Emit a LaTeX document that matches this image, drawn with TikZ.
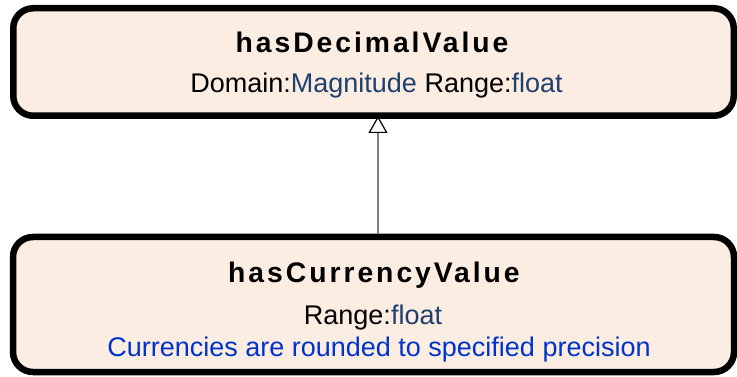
\documentclass[tikz,border=0pt]{standalone}
\usepackage{fontspec}
\setmainfont{Liberation Sans}
\usetikzlibrary{arrows.meta}
\definecolor{boxfill}{RGB}{252,237,226}
\definecolor{darkblue}{RGB}{31,63,111}
\definecolor{brightblue}{RGB}{0,51,204}
\tikzset{
  classbox/.style={draw=black, line width=6.5pt, fill=boxfill, rounded corners=20pt, rectangle, inner sep=0pt},
  titletext/.style={anchor=base, font=\fontsize{28.3}{30}\selectfont\bfseries\addfontfeature{LetterSpace=10.5}},
  bodytext/.style={anchor=base, font=\fontsize{27}{29}\selectfont},
  inherit/.style={draw={rgb,255:red,128;green,128;blue,128}, line width=1.3pt, -{Triangle[open, length=17pt, width=19pt, line width=1.2pt, color=black]}}
}
\begin{document}
\begin{tikzpicture}[x=1pt,y=-1pt]
\useasboundingbox (0,0) rectangle (737,377);
\node[classbox, minimum width=720.5pt, minimum height=107.5pt] (top) at (373.5,62) {};
\node[classbox, minimum width=721pt, minimum height=135pt] (bottom) at (373.5,304.5) {};
\node[titletext] (t1) at (372,53) {hasDecimalValue};
\node[bodytext] (d1) at (376.5,93) {Domain:\textcolor{darkblue}{Magnitude} Range:\textcolor{darkblue}{float}};
\node[titletext] (t2) at (374,283) {hasCurrencyValue};
\node[bodytext] (r2) at (373,324) {Range:\textcolor{darkblue}{float}};
\node[bodytext, text=brightblue] (c2) at (379,356) {Currencies are rounded to specified precision};
\draw[inherit] (bottom.north -| 378,0) -- ([yshift=3pt]top.south -| 378,0);
\end{tikzpicture}
\end{document}
